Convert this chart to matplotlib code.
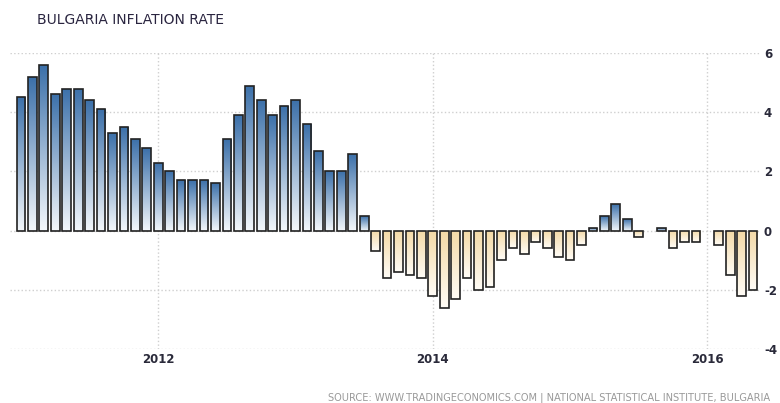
import numpy as np
import matplotlib.pyplot as plt
from matplotlib.colors import LinearSegmentedColormap

# monthly yoy inflation, Jan 2011 .. May 2016
values = [4.5, 5.2, 5.6, 4.6, 4.8, 4.8, 4.4, 4.1, 3.3, 3.5, 3.1, 2.8,
          2.3, 2.0, 1.7, 1.7, 1.7, 1.6, 3.1, 3.9, 4.9, 4.4, 3.9, 4.2,
          4.4, 3.6, 2.7, 2.0, 2.0, 2.6, 0.5, -0.7, -1.6, -1.4, -1.5, -1.6,
          -2.2, -2.6, -2.3, -1.6, -2.0, -1.9, -1.0, -0.6, -0.8, -0.4, -0.6, -0.9,
          -1.0, -0.5, 0.1, 0.5, 0.9, 0.4, -0.2, 0.0, 0.1, -0.6, -0.4, -0.4,
          0.0, -0.5, -1.5, -2.2, -2.0]
months = np.arange(len(values))
tick_pos = [12, 36, 60]
tick_labels = ['2012', '2014', '2016']
y_ticks = [-4, -2, 0, 2, 4, 6]
y_labels = ['-4', '-2', '0', '2', '4', '6']

fig = plt.figure(figsize=(7.8, 4.03), dpi=100)
ax = fig.add_axes([0.0128, 0.134, 0.963, 0.7345])

bars = ax.bar(months, values, width=0.76, facecolor='none',
              edgecolor='#222222', linewidth=1.2, zorder=3)

blue = LinearSegmentedColormap.from_list('blu', ['#f3f7fb', '#3d71aa'])
tan = LinearSegmentedColormap.from_list('tan', ['#fffcf6', '#f3d9a6'])
grad = np.linspace(0, 1, 64).reshape(-1, 1)

for b, v in zip(bars, values):
    if v == 0:
        b.set_linewidth(0)
        continue
    x0, w = b.get_x(), b.get_width()
    if v > 0:
        ext = [x0, x0 + w, 0, v]
        cmap = blue
    else:
        ext = [x0, x0 + w, v, 0]
        cmap = tan
    im = ax.imshow(grad, cmap=cmap, extent=ext, origin='lower',
                   aspect='auto', zorder=2, interpolation='bilinear')
    im.set_clip_path(b)

ax.set_xlim(-0.96, 64.7)
ax.set_ylim(-4, 6)
ax.set_xticks(tick_pos)
ax.set_xticklabels(tick_labels, fontweight='bold')
ax.set_yticks(y_ticks)
ax.set_yticklabels(y_labels, fontweight='bold')
ax.yaxis.tick_right()
ax.tick_params(length=0, labelsize=8.5, colors='#2a2a3a')
ax.tick_params(axis='x', pad=3)
ax.tick_params(axis='y', pad=2)
ax.grid(True, linestyle=':', color='#cfcfcf', linewidth=1)
ax.set_axisbelow(True)
for s in ax.spines.values():
    s.set_visible(False)

fig.text(37 / 780, 1 - 20 / 403, 'BULGARIA INFLATION RATE', fontsize=10,
         color='#2a2540', va='center')
fig.text(770 / 780, 1 - 398 / 403,
         'SOURCE: WWW.TRADINGECONOMICS.COM | NATIONAL STATISTICAL INSTITUTE, BULGARIA',
         fontsize=7.1, color='#999999', ha='right', va='center')

fig.savefig('out.png', dpi=100)
